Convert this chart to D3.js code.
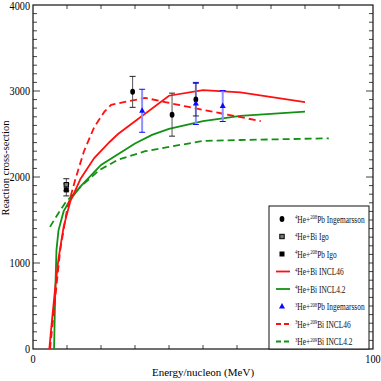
<!DOCTYPE html>
<html lang="en">
<head>
    <meta charset="UTF-8">
    <title>Reaction cross-section</title>
    <script src="https://d3js.org/d3.v7.min.js"></script>
    <style>
        body { margin: 0; background: white; }
    </style>
</head>
<body>
<div id="chart"></div>
<script>
    // ---- data ----
    // 4He+Bi INCL46 (red solid)
    const he4InclE = [4.8, 5.5, 6.5, 7.5, 9, 11, 14, 18, 22.6, 25, 40, 50, 61, 80];
    const he4InclSigma = [0, 300, 700, 1050, 1420, 1720, 1980, 2220, 2410, 2500, 2945, 3010, 2985, 2870];

    // 4He+Bi INCL4.2 (green solid)
    const he4Incl42E = [6.2, 6.5, 6.9, 7.5, 9, 11, 14, 20, 30, 35, 40, 50, 61, 80];
    const he4Incl42Sigma = [0, 600, 1150, 1380, 1600, 1740, 1890, 2140, 2390, 2490, 2560, 2650, 2710, 2760];

    // 3He+209Bi INCL46 (red dashed)
    const he3InclE = [5, 6, 7, 8, 10, 12.5, 15, 18, 21, 23, 28, 33, 45, 67];
    const he3InclSigma = [0, 380, 770, 1150, 1620, 1980, 2300, 2580, 2760, 2840, 2880, 2920, 2820, 2650];

    // 3He+209Bi INCL4.2 (green dashed)
    const he3Incl42E = [5, 7, 9.5, 12.5, 15.5, 19.5, 25, 33, 50, 61, 87];
    const he3Incl42Sigma = [1420, 1550, 1700, 1830, 1940, 2080, 2200, 2300, 2420, 2430, 2450];

    // measurements: energy, sigma, error
    const he4PbIngE = [29.3, 40.9, 47.9];
    const he4PbIngSigma = [2990, 2725, 2900];
    const he4PbIngErr = [180, 250, 190];

    const he4BiIgoE = [9.8];
    const he4BiIgoSigma = [1910];
    const he4BiIgoErr = [70];

    const he4PbIgoE = [9.8];
    const he4PbIgoSigma = [1850];
    const he4PbIgoErr = [70];

    const he3PbIngE = [32.1, 47.9, 55.8];
    const he3PbIngSigma = [2770, 2855, 2825];
    const he3PbIngErr = [250, 245, 180];

    const xTickLabels = [0, 100];
    const yTickLabels = [0, 1000, 2000, 3000, 4000];

    // ---- setup ----
    const W = 381, H = 381;
    const FONT = "'Liberation Serif'";
    const svg = d3.select("#chart").append("svg")
        .attr("width", W)
        .attr("height", H);

    const x = d3.scaleLinear().domain([0, 100]).range([33, 373]);
    const y = d3.scaleLinear().domain([0, 4000]).range([349, 5]);

    const red = "#ff1010";
    const green = "#139113";
    const blue = "#0a0aff";

    // minor/major ticks on all four sides
    const ticks = svg.append("g").attr("stroke", "#444").attr("stroke-width", 1);
    d3.range(10, 100, 10).forEach(v => {
        ticks.append("line").attr("x1", x(v)).attr("x2", x(v)).attr("y1", y(0)).attr("y2", y(0) - 4);
        ticks.append("line").attr("x1", x(v)).attr("x2", x(v)).attr("y1", y(4000)).attr("y2", y(4000) + 4);
    });
    d3.range(100, 4000, 100).forEach(v => {
        const len = v % 1000 === 0 ? 7 : 4;
        ticks.append("line").attr("x1", x(0)).attr("x2", x(0) + len).attr("y1", y(v)).attr("y2", y(v));
        ticks.append("line").attr("x1", x(100)).attr("x2", x(100) - len).attr("y1", y(v)).attr("y2", y(v));
    });

    // frame
    svg.append("rect")
        .attr("x", x(0)).attr("y", y(4000))
        .attr("width", x(100) - x(0)).attr("height", y(0) - y(4000))
        .attr("fill", "none").attr("stroke", "#111").attr("stroke-width", 1.2);

    // tick labels (the original font is a bit condensed)
    svg.selectAll(".xlab").data(xTickLabels).enter().append("text")
        .style("font-family", FONT).attr("font-size", 12)
        .attr("transform", d => `translate(${x(d)},363) scale(0.85,1)`)
        .attr("text-anchor", "middle")
        .text(d => d);
    svg.selectAll(".ylab").data(yTickLabels).enter().append("text")
        .style("font-family", FONT).attr("font-size", 12)
        .attr("transform", d => `translate(30,${Math.max(y(d) + 4, 10)}) scale(0.85,1)`)
        .attr("text-anchor", "end")
        .text(d => d);

    // axis titles
    svg.append("text")
        .style("font-family", FONT).attr("font-size", 11)
        .attr("x", 203).attr("y", 376)
        .attr("text-anchor", "middle")
        .text("Energy/nucleon  (MeV)");
    svg.append("text")
        .style("font-family", FONT).attr("font-size", 10.5)
        .attr("transform", "translate(8.5,168) rotate(-90)")
        .attr("text-anchor", "middle")
        .text("Reaction cross-section");

    // curves
    const line = d3.line().x(d => x(d[0])).y(d => y(d[1]));
    const drawCurve = (es, ss, color, dash) => {
        svg.append("path")
            .datum(es.map((e, i) => [e, ss[i]]))
            .attr("fill", "none")
            .attr("stroke", color)
            .attr("stroke-width", 1.8)
            .attr("stroke-dasharray", dash)
            .attr("d", line);
    };
    drawCurve(he3Incl42E, he3Incl42Sigma, green, "7,4");
    drawCurve(he4Incl42E, he4Incl42Sigma, green, null);
    drawCurve(he3InclE, he3InclSigma, red, "7,4");
    drawCurve(he4InclE, he4InclSigma, red, null);

    // error bars
    const errorBars = (es, ss, errs, barColor, barWidth, capColor) => {
        es.forEach((e, i) => {
            const cx = x(e), top = y(ss[i] + errs[i]), bot = y(ss[i] - errs[i]);
            svg.append("line").attr("x1", cx).attr("x2", cx).attr("y1", top).attr("y2", bot)
                .attr("stroke", barColor).attr("stroke-width", barWidth);
            [top, bot].forEach(yy => svg.append("line")
                .attr("x1", cx - 3).attr("x2", cx + 3).attr("y1", yy).attr("y2", yy)
                .attr("stroke", capColor).attr("stroke-width", 1));
        });
    };
    errorBars(he3PbIngE, he3PbIngSigma, he3PbIngErr, "#8f8fff", 2, blue);
    errorBars(he4PbIngE, he4PbIngSigma, he4PbIngErr, "#555", 1, "#222");
    errorBars(he4BiIgoE, he4BiIgoSigma, he4BiIgoErr, "#555", 1, "#222");
    errorBars(he4PbIgoE, he4PbIgoSigma, he4PbIgoErr, "#555", 1, "#222");

    // markers
    const circle = (g, cx, cy) => g.append("ellipse").attr("cx", cx).attr("cy", cy)
        .attr("rx", 2.4).attr("ry", 3).attr("fill", "#000");
    const openSquare = (g, cx, cy) => g.append("rect").attr("x", cx - 2.2).attr("y", cy - 2.2)
        .attr("width", 4.4).attr("height", 4.4).attr("fill", "#777").attr("stroke", "#000").attr("stroke-width", 1);
    const square = (g, cx, cy) => g.append("rect").attr("x", cx - 2.5).attr("y", cy - 2.5)
        .attr("width", 5).attr("height", 5).attr("fill", "#000");
    const triangle = (g, cx, cy) => g.append("path")
        .attr("d", `M${cx},${cy - 3.5}L${cx + 3},${cy + 2}L${cx - 3},${cy + 2}Z`)
        .attr("fill", blue);

    he4PbIngE.forEach((e, i) => circle(svg, x(e), y(he4PbIngSigma[i])));
    he4PbIgoE.forEach((e, i) => square(svg, x(e), y(he4PbIgoSigma[i])));
    he4BiIgoE.forEach((e, i) => openSquare(svg, x(e), y(he4BiIgoSigma[i])));
    he3PbIngE.forEach((e, i) => triangle(svg, x(e), y(he3PbIngSigma[i])));

    // legend
    const legendItems = [
        { parts: [["4", true], ["He+", false], ["208", true], ["Pb Ingemarsson", false]], mark: circle },
        { parts: [["4", true], ["He+Bi Igo", false]], mark: openSquare },
        { parts: [["4", true], ["He+", false], ["208", true], ["Pb Igo", false]], mark: square },
        { parts: [["4", true], ["He+Bi INCL46", false]], color: red, dash: null },
        { parts: [["4", true], ["He+Bi INCL4.2", false]], color: green, dash: null },
        { parts: [["3", true], ["He+", false], ["208", true], ["Pb Ingemarsson", false]], mark: triangle },
        { parts: [["3", true], ["He+", false], ["209", true], ["Bi INCL46", false]], color: red, dash: "5,3" },
        { parts: [["3", true], ["He+", false], ["209", true], ["Bi INCL4.2", false]], color: green, dash: "5,3" }
    ];

    const legend = svg.append("g");
    legend.append("rect")
        .attr("x", 269).attr("y", 206)
        .attr("width", 100).attr("height", 143)
        .attr("fill", "white").attr("stroke", "#111").attr("stroke-width", 1);

    legendItems.forEach((item, i) => {
        const ly = 219 + i * 17.5;
        if (item.mark) {
            item.mark(legend, 282, ly);
        } else {
            legend.append("line")
                .attr("x1", 276).attr("x2", 290).attr("y1", ly).attr("y2", ly)
                .attr("stroke", item.color).attr("stroke-width", 1.8)
                .attr("stroke-dasharray", item.dash);
        }
        const t = legend.append("text")
            .style("font-family", FONT).attr("font-size", 9.5)
            .attr("fill", "#111")
            .attr("transform", `translate(295,${ly + 3.5}) scale(0.78,1)`);
        item.parts.forEach(([s, sup], j) => {
            const ts = t.append("tspan").text(s);
            if (sup) ts.attr("font-size", 6).attr("dy", -3.5);
            else ts.attr("dy", j > 0 ? 3.5 : 0);
        });
    });
</script>
</body>
</html>
